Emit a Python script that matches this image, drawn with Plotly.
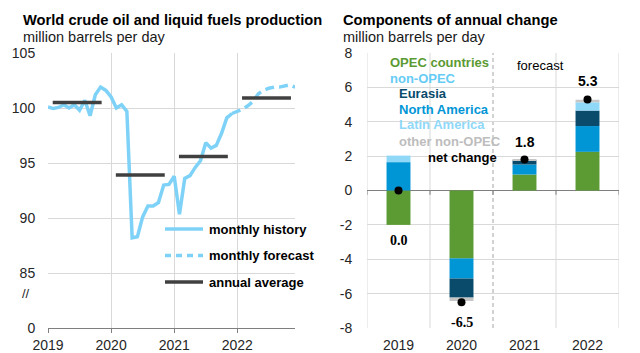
import plotly.graph_objects as go

# ---------------- data ----------------
start_year = 2019
history = [100.1, 99.95, 100.05, 100.3, 100.0, 100.3, 99.8, 100.7, 99.3, 101.2, 101.9, 101.6,
           101.0, 100.0, 100.3, 99.7, 88.2, 88.3, 90.1, 91.1, 91.1, 91.4, 93.0, 93.05,
           93.8, 90.35, 93.6, 93.85, 94.6, 95.2, 96.85, 96.35, 96.6, 97.7, 99.1, 99.5]
forecast = [99.5, 99.7, 99.9, 100.2, 100.6, 101.3, 101.6, 101.8, 101.9, 101.9, 102.0, 102.1, 101.9]
annual_years = [2019, 2020, 2021, 2022]
annual_avg = [100.5, 93.9, 95.6, 100.9]

years = ["2019", "2020", "2021", "2022"]
opec = [-2.0, -3.95, 0.93, 2.25]
north_america = [1.65, -1.17, 0.58, 1.5]
eurasia = [0.0, -1.11, 0.25, 0.9]
latin_america = [0.38, 0.0, 0.0, 0.48]
other_non_opec = [0.0, -0.2, 0.03, 0.15]
net_change = [0.0, -6.5, 1.8, 5.3]
net_labels = ["0.0", "-6.5", "1.8", "5.3"]
right_ticks = [-8, -6, -4, -2, 0, 2, 4, 6, 8]
left_ticks = [80, 85, 90, 95, 100, 105]
left_tick_text = ["0", "85", "90", "95", "100", "105"]

# ---------------- styles ----------------
FONT = "Arial, Liberation Sans, sans-serif"
C_LINE = "#7fd2f7"
C_AVG = "#404040"
C_OPEC = "#5c9a33"
C_NA = "#0096d6"
C_EUR = "#0a4b6c"
C_LAT = "#8fd8f8"
C_OTH = "#c6c6c6"
C_NONOPEC = "#66ccf5"
GRID = "#d9d9d9"
AX = "#7f7f7f"

W, H = 640, 353
def px(x):
    return x / W
def py(y):
    return 1 - y / H

fig = go.Figure()

# ---------------- left chart ----------------
hx = [start_year + i / 12 for i in range(len(history))]
fx = [start_year + (len(history) - 1 + i) / 12 for i in range(len(forecast))]
fig.add_trace(go.Scatter(x=hx, y=history, mode="lines", line=dict(color=C_LINE, width=3.5),
                         xaxis="x", yaxis="y", showlegend=False, hoverinfo="skip"))
fig.add_trace(go.Scatter(x=fx, y=forecast, mode="lines",
                         line=dict(color=C_LINE, width=3.5, dash="9px,5px"),
                         xaxis="x", yaxis="y", showlegend=False, hoverinfo="skip"))
ax_, ay_ = [], []
for yr, v in zip(annual_years, annual_avg):
    ax_ += [yr + 0.075, yr + 0.85, None]
    ay_ += [v, v, None]
fig.add_trace(go.Scatter(x=ax_, y=ay_, mode="lines", line=dict(color=C_AVG, width=3.5),
                         xaxis="x", yaxis="y", showlegend=False, hoverinfo="skip"))

# ---------------- right chart ----------------
cat_x = list(range(len(years)))
for vals, col in [(opec, C_OPEC), (north_america, C_NA), (eurasia, C_EUR),
                  (latin_america, C_LAT), (other_non_opec, C_OTH)]:
    fig.add_trace(go.Bar(x=cat_x, y=vals, marker=dict(color=col, line=dict(width=0)),
                         width=0.38, xaxis="x2", yaxis="y2", showlegend=False,
                         hoverinfo="skip"))
fig.add_trace(go.Scatter(x=cat_x, y=net_change, mode="markers",
                         marker=dict(color="black", size=8, symbol="circle"),
                         xaxis="x2", yaxis="y2", showlegend=False, hoverinfo="skip"))

annotations = []
shapes = []
comps = [opec, north_america, eurasia, latin_america, other_non_opec]
for i, (n, lab) in enumerate(zip(net_change, net_labels)):
    pos = sum(c[i] for c in comps if c[i] > 0)
    neg = sum(c[i] for c in comps if c[i] < 0)
    if n <= 0:
        shift = -6 if neg <= n else -11
        annotations.append(dict(x=i, y=min(neg, n), xref="x2", yref="y2", text=lab,
                                showarrow=False, yanchor="top", yshift=shift,
                                font=dict(family="Liberation Serif, Times New Roman, serif",
                                          size=14, color="black", weight="bold")))
    else:
        annotations.append(dict(x=i, y=max(pos, n), xref="x2", yref="y2", text=lab,
                                showarrow=False, yanchor="bottom", yshift=8,
                                font=dict(family=FONT, size=14, color="black", weight="bold")))

# vertical grid lines on right chart
for b in [-0.5, 0.5, 2.5, 3.5]:
    shapes.append(dict(type="line", xref="x2", yref="y2", x0=b, x1=b, y0=-8, y1=8,
                       line=dict(color=GRID, width=1), layer="below"))
shapes.append(dict(type="line", xref="x2", yref="y2", x0=1.5, x1=1.5, y0=-8, y1=8,
                   line=dict(color="#a6a6a6", width=1, dash="4px,3px"), layer="below"))
for b in [-0.5, 0.5, 1.5, 2.5, 3.5]:
    shapes.append(dict(type="line", xref="x2", yref="y2", x0=b, x1=b, y0=0, y1=-0.25,
                       line=dict(color=AX, width=1), layer="above"))

# left legend
leg = [("monthly history", C_LINE, "solid"), ("monthly forecast", C_LINE, "6px,5px"),
       ("annual average", C_AVG, "solid")]
for k, (t, c, d) in enumerate(leg):
    yy = 229 + k * 26.5
    shapes.append(dict(type="line", xref="paper", yref="paper", x0=px(165), x1=px(203),
                       y0=py(yy), y1=py(yy), line=dict(color=c, width=3.5, dash=d)))
    annotations.append(dict(x=px(207), y=py(yy), xref="paper", yref="paper", text=t,
                            showarrow=False, xanchor="left", yanchor="middle",
                            font=dict(family=FONT, size=13, color="black", weight="bold")))

# right legend (coloured text)
rleg = [("OPEC countries", C_OPEC, 388, 62), ("non-OPEC", C_NONOPEC, 388, 78),
        ("Eurasia", C_EUR, 397, 93.5), ("North America", C_NA, 397, 109),
        ("Latin America", C_LAT, 397, 125), ("other non-OPEC", "#bdbdbd", 397, 141),
        ("net change", "black", 426, 157)]
for t, c, xx, yy in rleg:
    annotations.append(dict(x=px(xx), y=py(yy), xref="paper", yref="paper", text=t,
                            showarrow=False, xanchor="left", yanchor="middle",
                            font=dict(family=FONT, size=13, color=c, weight="bold")))
annotations.append(dict(x=px(540), y=py(65), xref="paper", yref="paper", text="forecast",
                        showarrow=False, xanchor="center", yanchor="middle",
                        font=dict(family=FONT, size=13, color="black")))

# titles
for x0, title in [(21, "World crude oil and liquid fuels production"),
                  (341, "Components of annual change")]:
    annotations.append(dict(x=px(x0), y=py(20), xref="paper", yref="paper", text=title,
                            showarrow=False, xanchor="left", yanchor="middle",
                            font=dict(family=FONT, size=14.7, color="black", weight="bold")))
    annotations.append(dict(x=px(x0), y=py(37), xref="paper", yref="paper",
                            text="million barrels per day", showarrow=False,
                            xanchor="left", yanchor="middle",
                            font=dict(family=FONT, size=14.5, color="#1a1a1a")))
# axis break mark
annotations.append(dict(x=px(26), y=py(293), xref="paper", yref="paper", text="//",
                        showarrow=False, xanchor="center", yanchor="middle",
                        font=dict(family=FONT, size=13, color="#262626")))

tickfont = dict(family=FONT, size=14, color="#262626")
fig.update_layout(
    width=W, height=H, margin=dict(l=0, r=0, t=0, b=0, autoexpand=False),
    paper_bgcolor="white", plot_bgcolor="white",
    barmode="relative", showlegend=False,
    xaxis=dict(domain=[px(48), px(295)], range=[2019, 2019 + 3.914], anchor="y",
               tickvals=annual_years, ticktext=[str(y) for y in annual_years],
               showgrid=True, gridcolor=GRID, gridwidth=1, zeroline=False,
               showline=True, linecolor=AX, linewidth=1, ticks="outside", ticklen=4,
               tickcolor=AX, tickfont=tickfont, automargin=False),
    yaxis=dict(domain=[1 - 328 / H, 1 - 53 / H], range=[80, 105], anchor="x",
               tickvals=left_ticks, ticktext=left_tick_text,
               showgrid=True, gridcolor=GRID, zeroline=False, showline=False,
               ticks="outside", ticklen=9, tickcolor="rgba(0,0,0,0)", tickfont=tickfont,
               automargin=False),
    xaxis2=dict(domain=[px(367), px(619)], range=[-0.5, 3.5], anchor="y2",
                tickvals=cat_x, ticktext=years, showgrid=False, zeroline=False,
                showline=False, ticks="outside", ticklen=4, tickcolor="rgba(0,0,0,0)",
                tickfont=tickfont, automargin=False),
    yaxis2=dict(domain=[1 - 328 / H, 1 - 53 / H], range=[-8, 8], anchor="x2",
                tickvals=right_ticks, ticktext=[str(v) for v in right_ticks],
                showgrid=True, gridcolor=GRID, zeroline=True, zerolinecolor=AX,
                zerolinewidth=1, showline=False, ticks="outside", ticklen=11,
                tickcolor="rgba(0,0,0,0)", tickfont=tickfont, automargin=False),
    annotations=annotations, shapes=shapes,
)

fig.write_html("out.html")
